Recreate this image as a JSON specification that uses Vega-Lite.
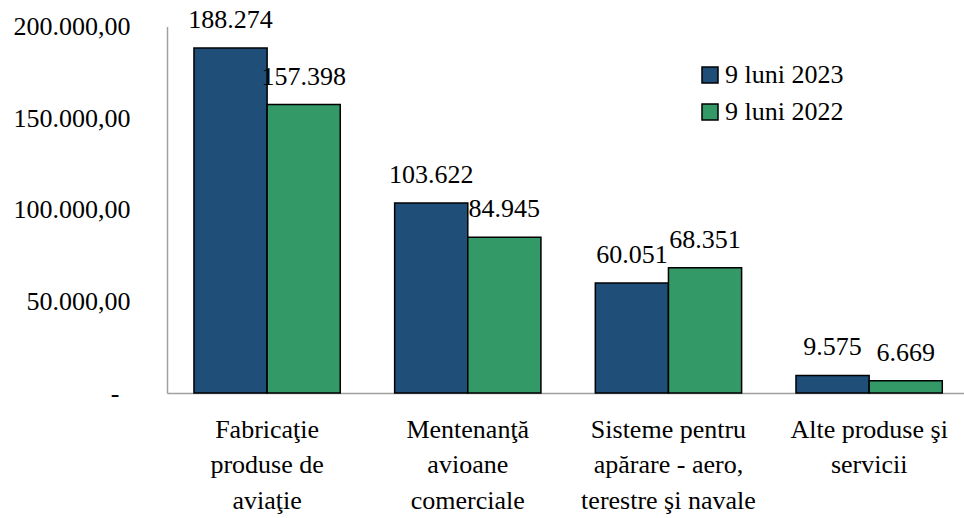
{
  "$schema": "https://vega.github.io/schema/vega-lite/v6.json",
  "width": 797,
  "height": 366.5,
  "autosize": {"type": "none"},
  "padding": {"left": 167, "top": 26.5, "right": 0, "bottom": 125},
  "config": {
    "locale": {"number": {"decimal": ",", "thousands": ".", "grouping": [3], "currency": ["", ""]}},
    "view": {"stroke": null},
    "font": "Liberation Serif",
    "text": {"font": "Liberation Serif"},
    "axis": {"labelFont": "Liberation Serif"},
    "legend": {"labelFont": "Liberation Serif"}
  },
  "data": {
    "values": [
      {"categorie": "Fabricaţie|produse de|aviaţie", "perioada": "9 luni 2023", "valoare": 188274},
      {"categorie": "Fabricaţie|produse de|aviaţie", "perioada": "9 luni 2022", "valoare": 157398},
      {"categorie": "Mentenanţă|avioane|comerciale", "perioada": "9 luni 2023", "valoare": 103622},
      {"categorie": "Mentenanţă|avioane|comerciale", "perioada": "9 luni 2022", "valoare": 84945},
      {"categorie": "Sisteme pentru|apărare - aero,|terestre şi navale", "perioada": "9 luni 2023", "valoare": 60051},
      {"categorie": "Sisteme pentru|apărare - aero,|terestre şi navale", "perioada": "9 luni 2022", "valoare": 68351},
      {"categorie": "Alte produse şi|servicii", "perioada": "9 luni 2023", "valoare": 9575},
      {"categorie": "Alte produse şi|servicii", "perioada": "9 luni 2022", "valoare": 6669}
    ]
  },
  "encoding": {
    "x": {
      "field": "categorie",
      "type": "nominal",
      "sort": null,
      "scale": {"paddingInner": 0.271, "paddingOuter": 0.1213, "align": 0.554},
      "axis": {
        "title": null,
        "ticks": false,
        "domainColor": "#a0a0a0",
        "domainWidth": 1.5,
        "labelAngle": 0,
        "labelFont": "Liberation Serif",
        "labelFontSize": 26,
        "labelColor": "black",
        "labelLineHeight": 35.5,
        "labelBaseline": "top",
        "labelPadding": 23,
        "labelLimit": 0,
        "labelExpr": "split(datum.label, '|')"
      }
    },
    "xOffset": {
      "field": "perioada",
      "type": "nominal",
      "sort": ["9 luni 2023", "9 luni 2022"],
      "scale": {"paddingInner": 0, "paddingOuter": 0}
    },
    "y": {
      "field": "valoare",
      "type": "quantitative",
      "scale": {"domain": [0, 200000], "nice": false},
      "axis": {
        "title": null,
        "grid": false,
        "ticks": false,
        "domainColor": "#a0a0a0",
        "domainWidth": 1.5,
        "values": [0, 50000, 100000, 150000, 200000],
        "format": ",.2f",
        "labelExpr": "datum.value === 0 ? '-' : datum.label",
        "labelFont": "Liberation Serif",
        "labelFontSize": 26,
        "labelColor": "black",
        "labelPadding": {"condition": {"test": "datum.value === 0", "value": 48}, "value": 37}
      }
    }
  },
  "layer": [
    {
      "mark": {"type": "bar", "stroke": "black", "strokeWidth": 1.5},
      "encoding": {
        "color": {
          "field": "perioada",
          "type": "nominal",
          "scale": {"domain": ["9 luni 2023", "9 luni 2022"], "range": ["#1f4e79", "#339966"]},
          "legend": {
            "title": null,
            "orient": "none",
            "legendX": 530,
            "legendY": 35.5,
            "padding": 0,
            "symbolType": "square",
            "symbolSize": 256,
            "symbolStrokeColor": "black",
            "symbolStrokeWidth": 1.5,
            "symbolOpacity": 1,
            "labelFont": "Liberation Serif",
            "labelFontSize": 26,
            "labelColor": "black",
            "labelOffset": 2,
            "rowPadding": 11
          }
        }
      }
    },
    {
      "mark": {"type": "text", "baseline": "alphabetic", "dy": -20, "fontSize": 26, "color": "black", "font": "Liberation Serif"},
      "encoding": {
        "text": {"field": "valoare", "type": "quantitative", "format": ",d"}
      }
    }
  ]
}
